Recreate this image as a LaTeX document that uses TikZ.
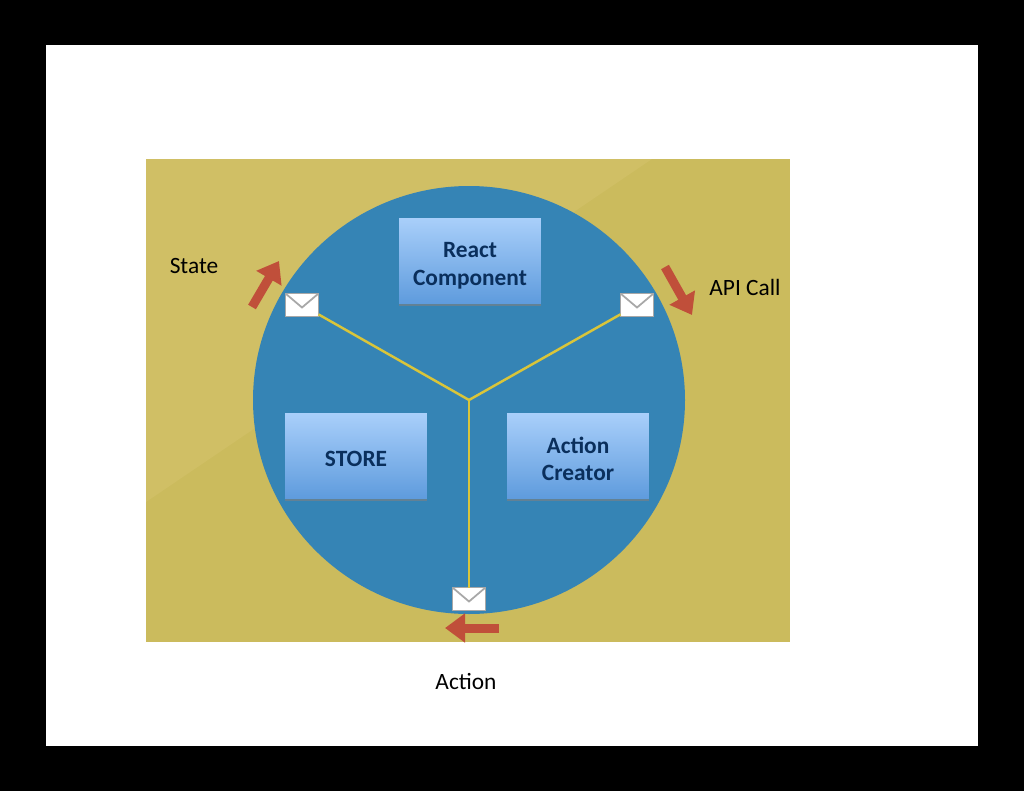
\documentclass[tikz,border=0pt]{standalone}
\usepackage{fontspec}
\setmainfont{Carlito}
\usetikzlibrary{arrows.meta,shadows}
\definecolor{sand}{HTML}{CBBB5D}
\definecolor{sandlight}{HTML}{D0BF65}
\definecolor{disc}{HTML}{3584B5}
\definecolor{wire}{HTML}{D9C53A}
\definecolor{boxtop}{HTML}{A9CFFA}
\definecolor{boxbot}{HTML}{5E9BDD}
\definecolor{boxtext}{HTML}{0A2F5C}
\definecolor{flow}{HTML}{C04F3A}
\definecolor{flap}{HTML}{A8A8A8}

\begin{document}
\begin{tikzpicture}
  [x=.02cm,y=-.02cm,
   every node/.style={inner sep=0pt,outer sep=0pt},
   box/.style={minimum width=2.84cm,minimum height=1.72cm,align=center,top color=boxtop,bottom color=boxbot,
     drop shadow={shadow xshift=0pt,shadow yshift=-.05cm,opacity=.6},text=boxtext,
     font=\fontsize{13.3}{15.5}\selectfont\bfseries},
   envelope/.style={minimum width=.66cm,minimum height=.46cm,fill=white,draw=flap,line width=.8pt,
     path picture={\draw[flap,line width=1pt] (path picture bounding box.north west)
       -- ([yshift=-.28cm]path picture bounding box.north) -- (path picture bounding box.north east);}},
   sidetext/.style={font=\fontsize{13.3}{15}\selectfont,text=black},
   wireline/.style={wire,line width=1.4pt},
   flowarrow/.style={flow,line width=.18cm,-{Triangle[length=.4cm,width=.56cm]}}]

  % frame and backdrop
  \fill[black] (0,0) rectangle (1024,791);
  \fill[white] (46,45) rectangle (978,746);
  \fill[sand] (146,159) rectangle (790,642);
  \fill[sandlight] (146,159) -- (652,159) -- (146,502) -- cycle;
  \fill[disc] (469,400) ellipse [x radius=216,y radius=214];

  \coordinate (hub) at (469,400);

  \node[box] (react) at (470,261) {\rule{0pt}{14pt}React\\Component};
  \node[box] (store) at (356,456) {\rule{0pt}{12.5pt}STORE};
  \node[box] (creator) at (578,456) {\rule{0pt}{13pt}Action\\Creator};

  \node[envelope] (env1) at (302,305) {};
  \node[envelope] (env2) at (637,305) {};
  \node[envelope] (env3) at (469,599) {};

  \foreach \to in {env1,env2,env3}
    \draw[wireline] (hub) -- (\to);

  \coordinate (s1) at (252,307);
  \coordinate (s2) at (279,261);
  \coordinate (a1) at (665,267);
  \coordinate (a2) at (692,315);
  \coordinate (c1) at (499,628);
  \coordinate (c2) at (445,628);
  \foreach \from/\to in {s1/s2,a1/a2,c1/c2}
    \draw[flowarrow] (\from) -- (\to);

  \node[sidetext] (state) at (194,266) {State};
  \node[sidetext] (api) at (745,287) {API Call};
  \node[sidetext] (action) at (466,681) {Action};
\end{tikzpicture}
\end{document}
